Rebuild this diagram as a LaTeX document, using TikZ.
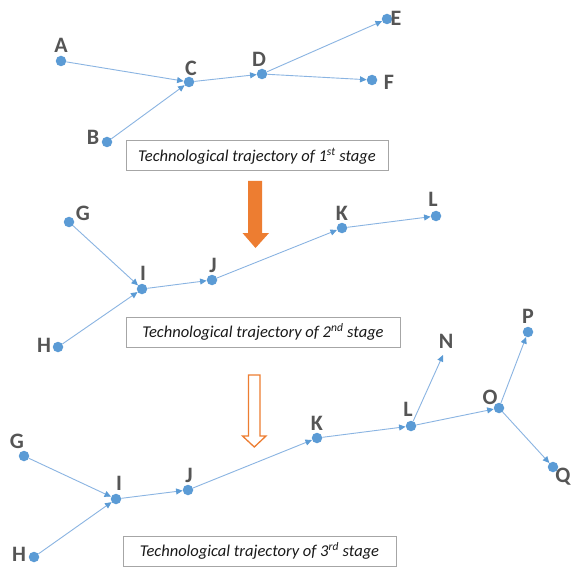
\documentclass[tikz,border=0pt]{standalone}
\usepackage{fontspec}
\setmainfont{Carlito}
\usetikzlibrary{arrows.meta}
\definecolor{dotblue}{HTML}{5B9BD5}
\definecolor{linkblue}{HTML}{8AB4E2}
\definecolor{lettergray}{HTML}{555555}
\definecolor{boxgray}{HTML}{A6A6A6}
\definecolor{stageorange}{HTML}{ED7D31}
\tikzset{
  pt/.style={circle, fill=dotblue, inner sep=0pt, minimum size=10.5pt},
  letter/.style={font=\fontsize{22}{24}\selectfont\bfseries, text=lettergray, inner sep=0pt},
  link/.style={draw=linkblue, line width=0.9pt,
    -{Triangle[length=6.5pt, width=6pt, color=dotblue, fill=dotblue]}},
  caption/.style={draw=boxgray, line width=1pt, fill=white, inner sep=0pt,
    font=\fontsize{16.5}{18}\selectfont\itshape, text=black!90},
  stagearrow/.style={line width=1.3pt, draw=stageorange, line join=miter}
}
\begin{document}
\begin{tikzpicture}[x=1pt, y=-1pt]
\path[use as bounding box, fill=white] (0,0) rectangle (572,569);

% ---- first stage ----
\node[pt] (A1) at (61,61) {};
\node[pt] (B1) at (107,142) {};
\node[pt] (C1) at (189,82) {};
\node[pt] (D1) at (262,74) {};
\node[pt] (E1) at (387,19) {};
\node[pt] (F1) at (372,80) {};
\node[letter] (lA1) at (61,45) {A};
\node[letter] (lB1) at (93,137) {B};
\node[letter] (lC1) at (191,68) {C};
\node[letter] (lD1) at (259,59) {D};
\node[letter] (lE1) at (396,18) {E};
\node[letter] (lF1) at (389,82) {F};
\draw[link] (A1) -- (C1);
\draw[link] (B1) -- (C1);
\draw[link] (C1) -- (D1);
\draw[link] (D1) -- (E1);
\draw[link] (D1) -- (F1);
\node[caption, minimum width=262pt, minimum height=30pt] (cap1) at (257,156)
  {Technological trajectory of 1\textsuperscript{st} stage};

% solid transition arrow
\draw[draw=none, fill=stageorange] (248,181) -- (262,181) -- (262,233) -- (269,233)
  -- (255.5,248) -- (242.5,233) -- (248,233) -- cycle;

% ---- second stage ----
\node[pt] (G2) at (69,222) {};
\node[pt] (H2) at (58,347) {};
\node[pt] (I2) at (142,289) {};
\node[pt] (J2) at (212,280) {};
\node[pt] (K2) at (342,228) {};
\node[pt] (L2) at (436,216) {};
\node[letter] (lG2) at (83,213) {G};
\node[letter] (lH2) at (44,345) {H};
\node[letter] (lI2) at (143,273) {I};
\node[letter] (lJ2) at (213,265) {J};
\node[letter] (lK2) at (342,213) {K};
\node[letter] (lL2) at (433,199) {L};
\draw[link] (G2) -- (I2);
\draw[link] (H2) -- (I2);
\draw[link] (I2) -- (J2);
\draw[link] (J2) -- (K2);
\draw[link] (K2) -- (L2);
\node[caption, minimum width=274pt, minimum height=30pt] (cap2) at (263,332)
  {Technological trajectory of 2\textsuperscript{nd} stage};

% hollow transition arrow
\draw[stagearrow, fill=white] (248.5,375) -- (260,375) -- (260,436) -- (266,436)
  -- (254.3,447) -- (242.5,436) -- (248.5,436) -- cycle;

% ---- third stage ----
\node[pt] (G3) at (24,456) {};
\node[pt] (H3) at (34,557) {};
\node[pt] (I3) at (116,499) {};
\node[pt] (J3) at (188,490) {};
\node[pt] (K3) at (317,438) {};
\node[pt] (L3) at (411,426) {};
\coordinate (N3) at (443,355);
\node[pt] (O3) at (499,408) {};
\node[pt] (P3) at (528,332) {};
\node[pt] (Q3) at (553,467) {};
\node[letter] (lG3) at (17,441) {G};
\node[letter] (lH3) at (19,554) {H};
\node[letter] (lI3) at (119,483) {I};
\node[letter] (lJ3) at (189,475) {J};
\node[letter] (lK3) at (317,423) {K};
\node[letter] (lL3) at (408,409) {L};
\node[letter] (lN3) at (446,341) {N};
\node[letter] (lO3) at (490,397) {O};
\node[letter] (lP3) at (528,316) {P};
\node[letter] (lQ3) at (563,477) {Q};
\draw[link] (G3) -- (I3);
\draw[link] (H3) -- (I3);
\draw[link] (I3) -- (J3);
\draw[link] (J3) -- (K3);
\draw[link] (K3) -- (L3);
\draw[link] (L3) -- (N3);
\draw[link] (L3) -- (O3);
\draw[link] (O3) -- (P3);
\draw[link] (O3) -- (Q3);
\node[caption, minimum width=273pt, minimum height=30pt] (cap3) at (259.5,551)
  {Technological trajectory of 3\textsuperscript{rd} stage};
\end{tikzpicture}
\end{document}
